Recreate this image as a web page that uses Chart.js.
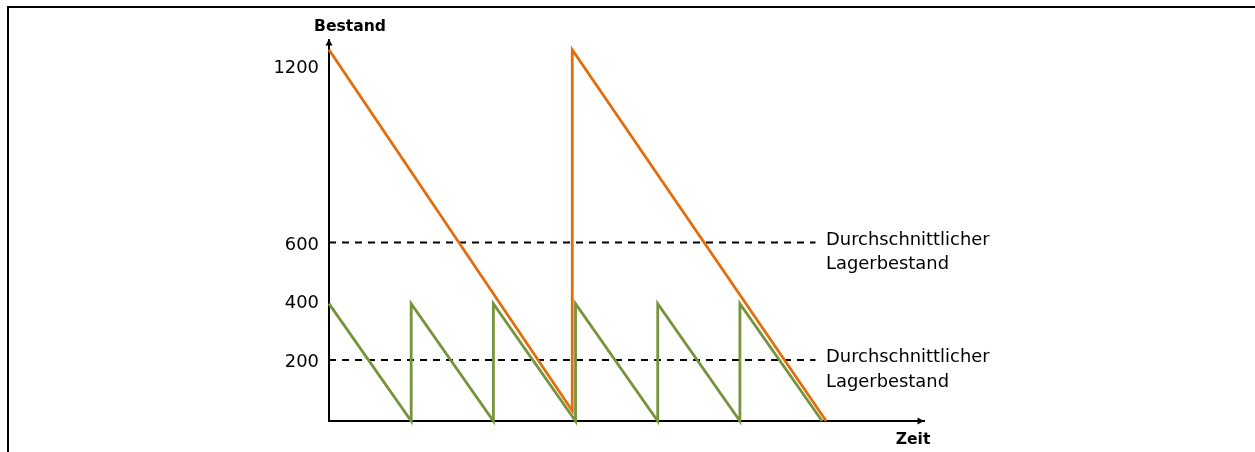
<!DOCTYPE html>
<html>
<head>
<meta charset="utf-8">
<script src="https://cdn.jsdelivr.net/npm/chart.js@4/dist/chart.umd.min.js"></script>
<style>
  html, body { margin: 0; padding: 0; background: #fff; }
  canvas { display: block; }
</style>
</head>
<body>
<canvas id="c" width="1255" height="452"></canvas>
<script>
// ---- data ----
const yTickValues = [200, 400, 600, 1200];
const yTickLabels = ['200', '400', '600', '1200'];

// small lot size (green): time in order cycles, stock level
const greenTime  = [0, 1, 1, 2, 2, 3, 3, 4, 4, 5, 5, 6];
const greenStock = [400, 0, 400, 0, 400, 0, 400, 0, 400, 0, 400, 0];

// large lot size (orange)
const orangeTime  = [0, 2.96, 2.96, 6.05];
const orangeStock = [1265, 35, 1265, 0];

// average stock lines
const avgTime = [0, 5.92];
const avgHigh = [608, 608];
const avgLow  = [208, 208];
const avgLabel = ['Durchschnittlicher', 'Lagerbestand'];

const yTitle = 'Bestand';
const xTitle = 'Zeit';

const toPts = (xs, ys) => xs.map((v, i) => ({ x: v, y: ys[i] }));

const FONT = '"DejaVu Sans", sans-serif';

const decor = {
  id: 'decor',
  afterDraw(chart) {
    const { ctx, scales: { x, y } } = chart;
    const ax = x.getPixelForValue(0);
    const ay = y.getPixelForValue(0);
    ctx.save();
    // outer frame
    ctx.fillStyle = '#000';
    ctx.fillRect(7, 6, chart.width - 7, 2);
    ctx.fillRect(7, 6, 2, chart.height - 6);

    // arrowheads
    const topY = y.top;
    ctx.beginPath();
    ctx.moveTo(ax, topY - 0.5);
    ctx.lineTo(ax - 3.5, topY + 6);
    ctx.lineTo(ax + 3.5, topY + 6);
    ctx.closePath();
    ctx.fill();
    const rightX = x.right;
    ctx.beginPath();
    ctx.moveTo(rightX, ay);
    ctx.lineTo(rightX - 6.5, ay - 3.5);
    ctx.lineTo(rightX - 6.5, ay + 3.5);
    ctx.closePath();
    ctx.fill();

    // axis titles
    ctx.fillStyle = '#000';
    ctx.font = 'bold 15.6px ' + FONT;
    ctx.textAlign = 'center';
    ctx.textBaseline = 'alphabetic';
    ctx.fillText(yTitle, ax + 21, topY - 8.5);
    ctx.fillText(xTitle, rightX - 11, ay + 22.5);

    // average labels
    ctx.font = '17.9px ' + FONT;
    ctx.textAlign = 'left';
    const lx = x.getPixelForValue(avgTime[1]) + 10.5;
    [avgHigh[0], avgLow[0]].forEach(v => {
      const py = y.getPixelForValue(v);
      ctx.fillText(avgLabel[0], lx, py + 2.3);
      ctx.fillText(avgLabel[1], lx, py + 26.6);
    });
    ctx.restore();
  }
};

new Chart(document.getElementById('c'), {
  type: 'line',
  data: {
    datasets: [
      {
        data: toPts(greenTime, greenStock),
        borderColor: '#77933C',
        borderWidth: 2.8,
        borderJoinStyle: 'miter',
        pointRadius: 0,
        tension: 0,
        clip: false
      },
      {
        data: toPts(orangeTime, orangeStock),
        borderColor: '#E46C0A',
        borderWidth: 2.8,
        borderJoinStyle: 'miter',
        pointRadius: 0,
        tension: 0,
        clip: false
      },
      {
        data: toPts(avgTime, avgHigh),
        borderColor: '#000',
        borderWidth: 2,
        borderDash: [7, 6],
        pointRadius: 0,
        clip: false
      },
      {
        data: toPts(avgTime, avgLow),
        borderColor: '#000',
        borderWidth: 2,
        borderDash: [7, 6],
        pointRadius: 0,
        clip: false
      }
    ]
  },
  options: {
    responsive: false,
    animation: false,
    events: [],
    layout: { padding: { left: 0, top: 39.5, right: 331, bottom: 0 } },
    plugins: { legend: { display: false }, tooltip: { enabled: false }, title: { display: false } },
    scales: {
      x: {
        type: 'linear',
        min: 0,
        max: 7.24,
        grid: { display: false, drawTicks: false },
        border: { display: true, color: '#000', width: 2 },
        ticks: { display: false },
        afterFit: s => { s.height = 31; }
      },
      y: {
        type: 'linear',
        min: 0,
        max: 1300,
        grid: { display: false, drawTicks: false },
        border: { display: true, color: '#000', width: 2 },
        afterBuildTicks: s => { s.ticks = yTickValues.map(v => ({ value: v })); },
        ticks: {
          padding: 10,
          color: '#000',
          font: { family: FONT, size: 17.9 },
          callback: (v) => yTickLabels[yTickValues.indexOf(v)] ?? ''
        },
        afterFit: s => { s.width = 329; }
      }
    }
  },
  plugins: [decor]
});
</script>
</body>
</html>
